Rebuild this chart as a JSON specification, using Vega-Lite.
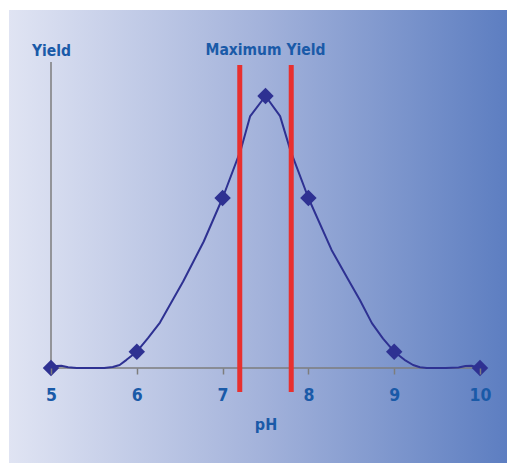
{
  "$schema": "https://vega.github.io/schema/vega-lite/v6.json",
  "autosize": "none",
  "width": 429,
  "height": 306,
  "padding": {"left": 51, "top": 62, "right": 27, "bottom": 96},
  "background": "white",
  "config": {
    "view": {"stroke": null},
    "font": "Liberation Sans Narrow, DejaVu Sans Condensed, Roboto"
  },
  "datasets": {
    "curve": [
      {"pH": 5.0, "yield": 0},
      {"pH": 5.06, "yield": 0.007},
      {"pH": 5.12, "yield": 0.008},
      {"pH": 5.2, "yield": 0.003},
      {"pH": 5.3, "yield": 0},
      {"pH": 5.45, "yield": 0},
      {"pH": 5.62, "yield": 0},
      {"pH": 5.72, "yield": 0.004},
      {"pH": 5.8, "yield": 0.011},
      {"pH": 5.88, "yield": 0.03},
      {"pH": 6.0, "yield": 0.06},
      {"pH": 6.13, "yield": 0.11},
      {"pH": 6.27, "yield": 0.167},
      {"pH": 6.4, "yield": 0.24},
      {"pH": 6.54, "yield": 0.318},
      {"pH": 6.78, "yield": 0.465},
      {"pH": 7.0, "yield": 0.625},
      {"pH": 7.21, "yield": 0.8},
      {"pH": 7.32, "yield": 0.925},
      {"pH": 7.5, "yield": 1.0},
      {"pH": 7.67, "yield": 0.926},
      {"pH": 7.79, "yield": 0.8},
      {"pH": 8.0, "yield": 0.625},
      {"pH": 8.27, "yield": 0.434},
      {"pH": 8.49, "yield": 0.311},
      {"pH": 8.6, "yield": 0.25},
      {"pH": 8.74, "yield": 0.165},
      {"pH": 8.87, "yield": 0.108},
      {"pH": 9.0, "yield": 0.06},
      {"pH": 9.12, "yield": 0.03},
      {"pH": 9.22, "yield": 0.011},
      {"pH": 9.3, "yield": 0.003},
      {"pH": 9.38, "yield": 0},
      {"pH": 9.6, "yield": 0},
      {"pH": 9.75, "yield": 0.002},
      {"pH": 9.83, "yield": 0.007},
      {"pH": 9.9, "yield": 0.008},
      {"pH": 10.0, "yield": 0}
    ],
    "points": [
      {"pH": 5, "yield": 0},
      {"pH": 6, "yield": 0.06},
      {"pH": 7, "yield": 0.625},
      {"pH": 7.5, "yield": 1.0},
      {"pH": 8, "yield": 0.625},
      {"pH": 9, "yield": 0.06},
      {"pH": 10, "yield": 0}
    ],
    "limits": [
      {"pH": 7.2},
      {"pH": 7.8}
    ]
  },
  "layer": [
    {
      "data": {"values": [{}]},
      "mark": {
        "type": "rect",
        "clip": false,
        "color": {
          "gradient": "linear",
          "x1": 0, "y1": 0, "x2": 1, "y2": 0,
          "stops": [
            {"offset": 0, "color": "#e0e4f3"},
            {"offset": 0.5, "color": "#a4b3db"},
            {"offset": 1, "color": "#5d7ec1"}
          ]
        }
      },
      "encoding": {
        "x": {"datum": 4.5105, "type": "quantitative", "scale": {"domain": [5, 10], "nice": false, "zero": false}},
        "x2": {"datum": 10.315},
        "y": {"datum": 1.316, "type": "quantitative", "scale": {"domain": [0, 1.125], "nice": false, "zero": false}},
        "y2": {"datum": -0.349}
      }
    },
    {
      "data": {"values": [{}]},
      "mark": {"type": "rule", "color": "#7d7d7d", "strokeWidth": 1.5},
      "encoding": {
        "x": {"datum": 5, "type": "quantitative"},
        "y": {"datum": 0, "type": "quantitative"},
        "y2": {"datum": 1.125}
      }
    },
    {
      "data": {"values": [{}]},
      "mark": {"type": "rule", "color": "#7d7d7d", "strokeWidth": 1.5},
      "encoding": {
        "x": {"datum": 5, "type": "quantitative"},
        "x2": {"datum": 10},
        "y": {"datum": 0, "type": "quantitative"}
      }
    },
    {
      "data": {"name": "curve"},
      "mark": {"type": "line", "color": "#2e3192", "strokeWidth": 2, "interpolate": "linear", "strokeJoin": "round", "clip": false},
      "encoding": {
        "x": {
          "field": "pH", "type": "quantitative",
          "axis": {
            "zindex": 1,
            "values": [5, 6, 7, 8, 9, 10],
            "format": "d",
            "domain": false,
            "grid": false,
            "ticks": true,
            "tickSize": 6,
            "tickWidth": 1.5,
            "tickColor": "#7d7d7d",
            "labelFontSize": 17.5,
            "labelFontWeight": "bold",
            "labelColor": "#1a5aa8",
            "labelBaseline": "alphabetic",
            "labelPadding": 26,
            "labelFlush": false,
            "labelOverlap": false,
            "title": "pH",
            "titleFontSize": 16,
            "titleFontWeight": "bold",
            "titleColor": "#1a5aa8",
            "titleBaseline": "alphabetic",
            "titleY": 61
          }
        },
        "y": {
          "field": "yield", "type": "quantitative",
          "axis": {
            "zindex": 1,
            "domain": false,
            "grid": false,
            "ticks": false,
            "labels": false,
            "title": "Yield",
            "titleAngle": 0,
            "titleX": 0,
            "titleY": -7,
            "titleAlign": "center",
            "titleBaseline": "alphabetic",
            "titleFontSize": 15.5,
            "titleFontWeight": "bold",
            "titleColor": "#1a5aa8"
          }
        }
      }
    },
    {
      "data": {"name": "points"},
      "mark": {"type": "point", "shape": "diamond", "filled": true, "size": 270, "color": "#2e3192", "opacity": 1, "clip": false},
      "encoding": {
        "x": {"field": "pH", "type": "quantitative"},
        "y": {"field": "yield", "type": "quantitative"}
      }
    },
    {
      "data": {"name": "limits"},
      "mark": {"type": "rule", "color": "#e8302f", "strokeWidth": 5, "clip": false},
      "encoding": {
        "x": {"field": "pH", "type": "quantitative"},
        "y": {"datum": 1.114, "type": "quantitative"},
        "y2": {"datum": -0.088}
      }
    },
    {
      "data": {"values": [{"label": "Maximum Yield"}]},
      "mark": {"type": "text", "fontSize": 15.5, "fontWeight": "bold", "color": "#1a5aa8", "align": "center", "baseline": "alphabetic"},
      "encoding": {
        "x": {"datum": 7.5, "type": "quantitative"},
        "y": {"datum": 1.151, "type": "quantitative"},
        "text": {"field": "label"}
      }
    }
  ]
}
